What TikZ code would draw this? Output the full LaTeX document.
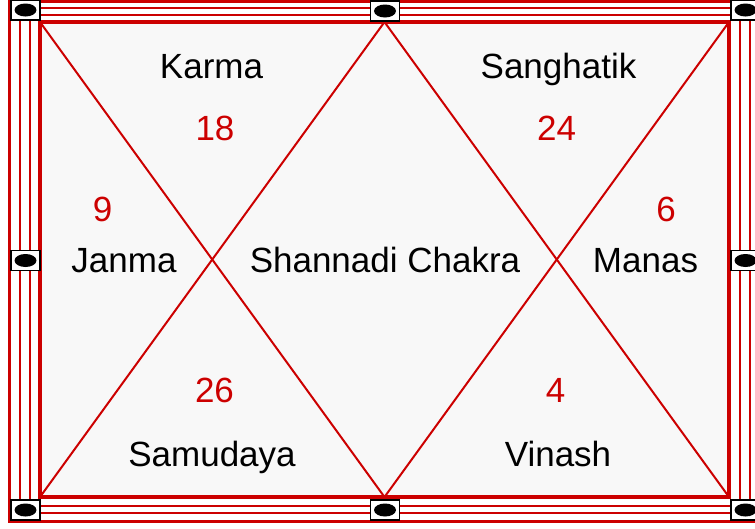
\documentclass[tikz,border=0pt]{standalone}
\usepackage{fontspec}
\setmainfont{Liberation Sans}
\usetikzlibrary{positioning}
\definecolor{chartred}{RGB}{204,0,0}
\definecolor{panel}{RGB}{248,248,248}

\begin{document}
\begin{tikzpicture}[
  x=1pt,y=-1pt,
  font=\fontsize{35}{42}\selectfont,
  rule/.style={draw=chartred, line width=2pt},
  edge/.style={draw=chartred, line width=3pt},
  border/.style={draw=chartred, line width=4.5pt},
  divider/.style={draw=chartred, line width=2pt},
  house/.style={anchor=base, text=black},
  num/.style={anchor=base, text=chartred},
  rivet/.style={draw=black, fill=white, line width=1.5pt, inner sep=0pt,
                minimum width=29pt, minimum height=20pt,
                path picture={\fill[black] (path picture bounding box.center)
                  ellipse (11pt and 6.5pt);}},
]
\useasboundingbox (0,0) rectangle (755,528);

% ---------------- frame ----------------
\def\xL{40}
\def\xR{729}
\def\xM{384.5}
\def\yT{22}
\def\yB{497}

\fill[panel] (\xL,\yT) rectangle (\xR,\yB);

\draw[edge] (9.5,1) rectangle (760,521);
\draw[rule] (19.5,7.5) rectangle (750,513);
\draw[rule] (29.5,14.5) rectangle (740,505.5);
\draw[border] (\xL,\yT) rectangle (\xR,\yB);

% corners of the two crosses
\coordinate (tl) at (\xL,\yT);
\coordinate (tm) at (\xM,\yT);
\coordinate (tr) at (\xR,\yT);
\coordinate (bl) at (\xL,\yB);
\coordinate (bm) at (\xM,\yB);
\coordinate (br) at (\xR,\yB);

\draw[divider] (tl) -- (bm);
\draw[divider] (tm) -- (bl);
\draw[divider] (tm) -- (br);
\draw[divider] (tr) -- (bm);

% rivets on the frame
\foreach \nm/\px/\py in {rtl/25.5/10, rtm/385/11, rtr/745.5/10,
                        rml/25.5/260.5, rmr/745.5/260.5,
                        rbl/25.5/510, rbm/385/510, rbr/745.5/510}
  \node[rivet] (\nm) at (\px,\py) {};

% ---------------- houses ----------------
\node[house] (karma)  at (211.5,78)  {Karma};
\node[num]   (n18)    at (215,140)   {18};
\node[house] (sangh)  at (558.5,78)  {Sanghatik};
\node[num]   (n24)    at (556.5,140) {24};

\node[num]   (n9)     at (102.5,221) {9};
\node[house] (janma)  at (124,272)   {Janma};
\node[house] (centre) at (385,272)   {Shannadi Chakra};
\node[num]   (n6)     at (666,221)   {6};
\node[house] (manas)  at (645.5,272) {Manas};

\node[num]   (n26)    at (214.5,402) {26};
\node[house] (samud)  at (212,466)   {Samudaya};
\node[num]   (n4)     at (555.5,402) {4};
\node[house] (vinash) at (558,466)   {Vinash};

\end{tikzpicture}
\end{document}
